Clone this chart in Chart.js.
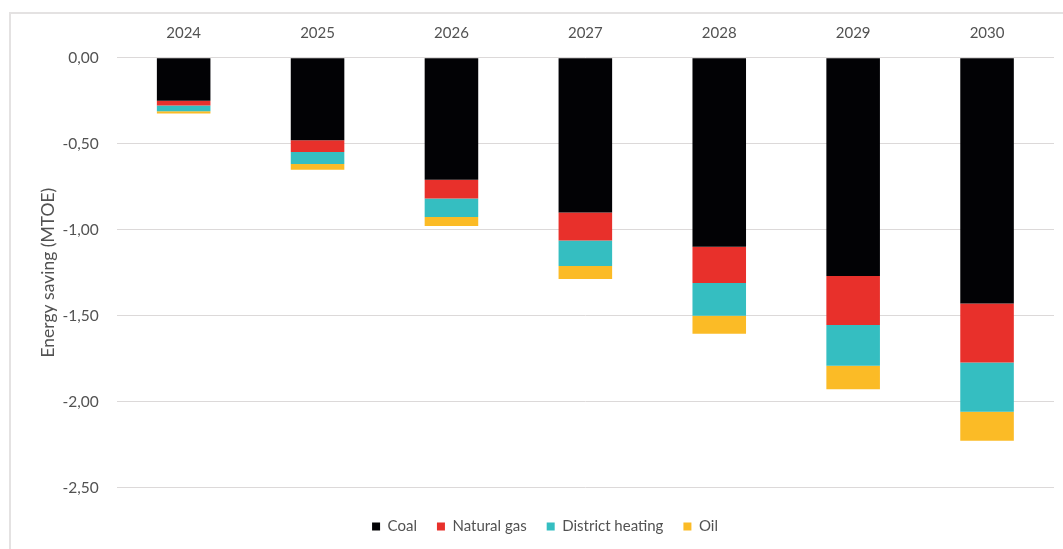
<!DOCTYPE html>
<html>
<head>
<meta charset="utf-8">
<script src="https://cdn.jsdelivr.net/npm/chart.js@4.4.1/dist/chart.umd.min.js"></script>
<style>
  html, body { margin: 0; padding: 0; background: #ffffff; }
  #wrap { position: relative; width: 1063px; height: 549px; overflow: hidden; }
  #frame { position: absolute; left: 9px; top: 12px; width: 1100px; height: 600px;
           border-top: 2px solid #e4e2e2; border-left: 2px solid #e4e2e2; }
  #c { position: absolute; left: 0; top: 0; }
</style>
</head>
<body>
<div id="wrap">
  <div id="frame"></div>
  <canvas id="c" width="1063" height="549"></canvas>
</div>
<script>
// ---- data ----
const years = ['2024', '2025', '2026', '2027', '2028', '2029', '2030'];
const coal = [-0.25, -0.48, -0.71, -0.90, -1.10, -1.27, -1.43];
const naturalGas = [-0.028, -0.068, -0.109, -0.163, -0.210, -0.285, -0.342];
const districtHeating = [-0.033, -0.070, -0.107, -0.148, -0.191, -0.237, -0.287];
const oil = [-0.014, -0.033, -0.053, -0.076, -0.104, -0.136, -0.169];
const seriesNames = ['Coal', 'Natural gas', 'District heating', 'Oil'];
const yTitle = 'Energy saving (MTOE)';

const FONT = 'Lato, "Liberation Sans", sans-serif';
const TXT = '#525252';
const GRID = '#dcd9d9';

const chart = new Chart(document.getElementById('c'), {
  type: 'bar',
  data: {
    labels: years,
    datasets: [
      { label: seriesNames[0], data: coal, backgroundColor: '#020205' },
      { label: seriesNames[1], data: naturalGas, backgroundColor: '#E8302B' },
      { label: seriesNames[2], data: districtHeating, backgroundColor: '#35BEC1' },
      { label: seriesNames[3], data: oil, backgroundColor: '#FBBB26' }
    ]
  },
  options: {
    responsive: false,
    animation: false,
    devicePixelRatio: 1,
    datasets: { bar: { barPercentage: 0.4, categoryPercentage: 1.0, borderWidth: 0 } },
    layout: { padding: { left: 36, right: 9, top: 0, bottom: 5 } },
    scales: {
      x: {
        position: 'top',
        stacked: true,
        grid: { display: false, drawTicks: false },
        border: { display: false },
        ticks: { color: TXT, font: { family: FONT, size: 15 }, padding: 16 },
        afterFit: (s) => { s.height = 57.7; }
      },
      y: {
        stacked: true,
        min: -2.5,
        max: 0,
        grid: { color: GRID, lineWidth: 1, drawTicks: false },
        border: { display: false },
        ticks: {
          stepSize: 0.5,
          padding: 18,
          color: TXT,
          font: { family: FONT, size: 15.5 },
          callback: (v) => Number(v).toFixed(2).replace('.', ',').replace('-0,00', '0,00')
        },
        title: {
          display: true,
          text: yTitle,
          color: TXT,
          font: { family: FONT, size: 17.5 },
          padding: { top: 1.5, bottom: 0 }
        },
        afterFit: (s) => { s.width = 80.7; }
      }
    },
    plugins: {
      tooltip: { enabled: false },
      legend: {
        position: 'bottom',
        title: { display: true, text: '', font: { size: 1 }, padding: { top: 10.2, bottom: 0 } },
        labels: {
          boxWidth: 8,
          boxHeight: 8,
          padding: 20,
          color: TXT,
          font: { family: FONT, size: 15 }
        }
      }
    }
  }
});
</script>
</body>
</html>
